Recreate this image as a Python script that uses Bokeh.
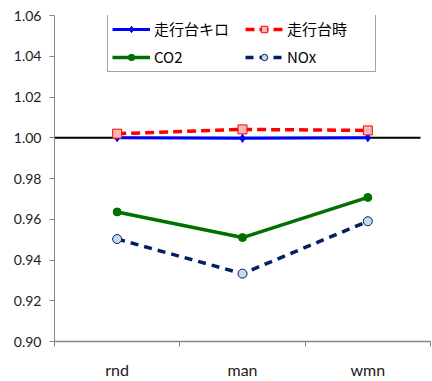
from bokeh.plotting import figure
from bokeh.models import (ColumnDataSource, FixedTicker, Legend, LegendItem,
                          Range1d, NumeralTickFormatter)
from bokeh.embed import file_html
from bokeh.resources import INLINE

# Data
categories = ["rnd", "man", "wmn"]
kilo_values = [1.0000, 0.9997, 1.0000]     # 走行台キロ
hour_values = [1.0020, 1.0041, 1.0036]     # 走行台時
co2_values = [0.9636, 0.9510, 0.9707]      # CO2
nox_values = [0.9503, 0.9333, 0.9590]      # NOx
reference_level = [1.0, 1.0]
reference_span = [0.0, 2.92]
y_ticks = [0.90, 0.92, 0.94, 0.96, 0.98, 1.00, 1.02, 1.04, 1.06]

xs = [i + 0.5 for i in range(len(categories))]

p = figure(width=432, height=381, output_backend="svg", toolbar_location=None,
           x_range=Range1d(0, 3), y_range=Range1d(0.90, 1.06),
           min_border_left=54, min_border_right=2, min_border_top=15,
           min_border_bottom=37)
p.outline_line_color = None
p.grid.visible = False
p.background_fill_color = "white"

axis_col = "#868686"
text_col = "#1a1a1a"

# y axis
p.yaxis.ticker = FixedTicker(ticks=y_ticks)
p.yaxis.formatter = NumeralTickFormatter(format="0.00")
p.yaxis.axis_line_color = axis_col
p.yaxis.major_tick_line_color = axis_col
p.yaxis.major_tick_out = 5
p.yaxis.major_tick_in = 0
p.yaxis.minor_tick_line_color = None
p.yaxis.major_label_text_font = "Lato"
p.yaxis.major_label_text_font_size = "14px"
p.yaxis.major_label_text_color = text_col
p.yaxis.major_label_standoff = 8

# x axis: labels centred on categories, ticks on boundaries
p.xaxis.ticker = FixedTicker(ticks=xs, minor_ticks=list(range(len(categories) + 1)))
p.xaxis.major_label_overrides = {x: c for x, c in zip(xs, categories)}
p.xaxis.axis_line_color = axis_col
p.xaxis.axis_line_width = 1.5
p.xaxis.major_tick_line_color = None
p.xaxis.minor_tick_line_color = axis_col
p.xaxis.minor_tick_out = 5
p.xaxis.minor_tick_in = 0
p.xaxis.major_label_text_font = "Lato"
p.xaxis.major_label_text_font_size = "16px"
p.xaxis.major_label_text_color = text_col
p.xaxis.major_label_standoff = 12

# reference line at 1.00
p.line(reference_span, reference_level, line_color="black", line_width=2)

src = ColumnDataSource(dict(x=xs, kilo=kilo_values, hour=hour_values,
                            co2=co2_values, nox=nox_values))

blue = "#0000FF"
red = "#FF0000"
green = "#007000"
navy = "#002060"

kl = p.line("x", "kilo", source=src, line_color=blue, line_width=3)
km = p.scatter("x", "kilo", source=src, marker="diamond", size=8,
               fill_color=blue, line_color=blue)

hl = p.line("x", "hour", source=src, line_color=red, line_width=3.5, line_dash="9 5")
hm = p.scatter("x", "hour", source=src, marker="square", size=9,
               fill_color="#F2B8B8", line_color=red, line_width=1)

cl = p.line("x", "co2", source=src, line_color=green, line_width=3.5)
cm = p.scatter("x", "co2", source=src, marker="circle", size=8,
               fill_color=green, line_color=green)

nl = p.line("x", "nox", source=src, line_color=navy, line_width=3.5, line_dash="8 6")
nm = p.scatter("x", "nox", source=src, marker="circle", size=9,
               fill_color="#C6D9F1", line_color=navy, line_width=1)

# two-column legend (filled column by column)
legend = Legend(items=[
    LegendItem(label="走行台キロ", renderers=[kl, km]),
    LegendItem(label="CO2", renderers=[cl, cm]),
    LegendItem(label="走行台時", renderers=[hl, hm]),
    LegendItem(label="NOx", renderers=[nl, nm]),
], location=(53, 269), ncols=2)
legend.border_line_color = "#2F4B7C"
legend.border_line_width = 1
legend.background_fill_alpha = 1
legend.label_text_font = "Noto Sans CJK JP"
legend.label_text_font_size = "15px"
legend.label_text_color = "black"
legend.glyph_width = 38
legend.glyph_height = 16
legend.label_height = 16
legend.label_width = 84
legend.label_standoff = 4
legend.spacing = 7
legend.padding = 4
legend.margin = 0
p.add_layout(legend, "center")

open("out.html", "w").write(file_html(p, INLINE))
